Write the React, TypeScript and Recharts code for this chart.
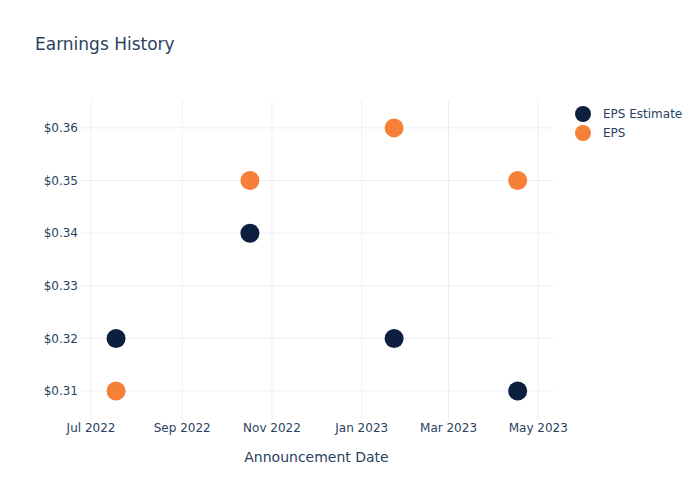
import {
  ScatterChart,
  Scatter,
  XAxis,
  YAxis,
  CartesianGrid,
} from "recharts";

const dates = ["2022-07-18", "2022-10-17", "2023-01-23", "2023-04-17"];
const epsEstimate = [0.32, 0.34, 0.32, 0.31];
const eps = [0.31, 0.35, 0.36, 0.35];

const xTicks = ["2022-07-01", "2022-09-01", "2022-11-01", "2023-01-01", "2023-03-01", "2023-05-01"];
const yTicks = [0.31, 0.32, 0.33, 0.34, 0.35, 0.36];

const MONTHS = ["Jan", "Feb", "Mar", "Apr", "May", "Jun", "Jul", "Aug", "Sep", "Oct", "Nov", "Dec"];
const FONT = "'DejaVu Sans', sans-serif";
const TEXT = "#2a3f5f";
const NAVY = "#0c1f3f";
const ORANGE = "#f68038";

const toTs = (d: string) => new Date(d + "T00:00:00Z").getTime();

const estimateData = dates.map((d, i) => ({ x: toTs(d), y: epsEstimate[i] }));
const epsData = dates.map((d, i) => ({ x: toTs(d), y: eps[i] }));

const fmtDate = (t: number) => {
  const d = new Date(t);
  return `${MONTHS[d.getUTCMonth()]} ${d.getUTCFullYear()}`;
};

const dot = (color: string) => (props: any) =>
  <circle cx={props.cx} cy={props.cy} r={9.5} fill={color} />;

const series = [
  { name: "EPS Estimate", color: NAVY },
  { name: "EPS", color: ORANGE },
];

function LegendBox() {
  return (
    <svg width={130} height={40} style={{ position: "absolute", left: 575, top: 105 }}>
      {series.map((s, i) => (
        <g key={s.name}>
          <circle cx={8} cy={9 + i * 19} r={8} fill={s.color} />
          <text x={28} y={9 + i * 19} dy="0.35em" fontSize={12} fill={TEXT} fontFamily={FONT}>
            {s.name}
          </text>
        </g>
      ))}
    </svg>
  );
}

export default function App() {
  return (
    <div style={{ position: "absolute", left: 0, top: 0, width: 700, height: 500, background: "#fff" }}>
      <div
        style={{
          position: "absolute",
          left: 35,
          top: 34,
          fontFamily: FONT,
          fontSize: 17,
          color: TEXT,
        }}
      >
        Earnings History
      </div>
      <ScatterChart
        width={700}
        height={500}
        margin={{ top: 100, right: 147, bottom: 30, left: 0 }}
      >
        <CartesianGrid stroke="#ebf0f8" strokeWidth={1} syncWithTicks />
        <XAxis
          type="number"
          dataKey="x"
          domain={[toTs("2022-06-23") + 12 * 3600e3, toTs("2023-05-11")]}
          ticks={xTicks.map(toTs)}
          tickFormatter={fmtDate}
          axisLine={false}
          tickLine={false}
          tickSize={0}
          tickMargin={3}
          height={50}
          tick={{ fontSize: 12, fill: TEXT, fontFamily: FONT }}
          label={{
            value: "Announcement Date",
            position: "insideBottom",
            offset: 8,
            fontSize: 14,
            fill: TEXT,
            fontFamily: FONT,
          }}
        />
        <YAxis
          type="number"
          dataKey="y"
          domain={[0.3045, 0.3653]}
          ticks={yTicks}
          tickFormatter={(v: number) => `$${v.toFixed(2)}`}
          axisLine={false}
          tickLine={false}
          tickSize={0}
          tickMargin={2}
          width={80}
          tick={{ fontSize: 12, fill: TEXT, fontFamily: FONT }}
        />
        <Scatter
          name="EPS Estimate"
          data={estimateData}
          fill={NAVY}
          shape={dot(NAVY)}
          isAnimationActive={false}
        />
        <Scatter
          name="EPS"
          data={epsData}
          fill={ORANGE}
          shape={dot(ORANGE)}
          isAnimationActive={false}
        />
      </ScatterChart>
      <LegendBox />
    </div>
  );
}
